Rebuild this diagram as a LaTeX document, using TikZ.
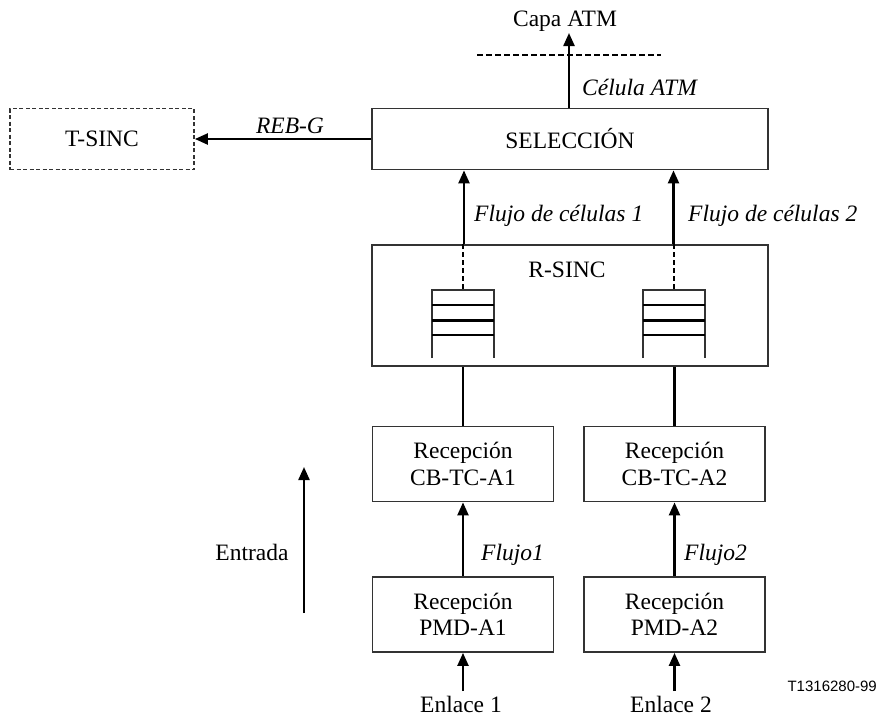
\documentclass[tikz,border=0pt]{standalone}
\usepackage{fontspec}
\setmainfont{Liberation Serif}
\newfontfamily\idfont{Liberation Sans}
\usetikzlibrary{arrows.meta}
\definecolor{boxgray}{gray}{0.2}
\begin{document}
\begin{tikzpicture}[x=1pt,y=-1pt,
  box/.style={draw=boxgray, line width=1.8pt, inner sep=0pt, align=center,
    font=\fontsize{23.5}{26.5}\selectfont},
  lbl/.style={inner sep=0pt, font=\fontsize{23.5}{26.5}\selectfont},
  ilbl/.style={inner sep=0pt, font=\fontsize{23.5}{26.5}\selectfont\itshape},
  arr/.style={line width=2.3pt, -{Triangle[length=13pt,width=11pt]}},
  ln/.style={line width=2.3pt},
  thin/.style={draw=boxgray, line width=1.8pt},
  dsh/.style={line width=2pt, dash pattern=on 5pt off 3pt},
  queue/.pic={
    \draw[thin] (-31,68) -- (-31,0) -- (31,0) -- (31,68);
    \draw[ln] (-31,15) -- (31,15) (-31,30.5) -- (31,30.5) (-31,45) -- (31,45);
  },
]
\useasboundingbox (0,0) rectangle (878,716);

% boxes
\node[box, minimum width=396pt, minimum height=61pt] (sel) at (570,139) {SELECCIÓN};
\node[box, dash pattern=on 4pt off 2.5pt, minimum width=184pt, minimum height=61pt] (tsinc) at (102,139) {T-SINC};
\node[box, minimum width=396pt, minimum height=121pt] (rsinc) at (570,305.5) {};
\node[lbl, anchor=base] (rsinclbl) at (567,277) {R-SINC};
\node[box, minimum width=181pt, minimum height=75pt] (cb1) at (463,464) {Recepción\\CB-TC-A1};
\node[box, minimum width=181pt, minimum height=75pt] (cb2) at (674.5,464) {Recepción\\CB-TC-A2};
\node[box, minimum width=181pt, minimum height=75pt] (pmd1) at (463,614.5) {Recepción\\PMD-A1};
\node[box, minimum width=181pt, minimum height=75pt] (pmd2) at (674.5,614.5) {Recepción\\PMD-A2};

% top
\node[lbl, anchor=base] (capa) at (565,26.5) {Capa ATM};
\coordinate (capatip) at (569,33);
\draw[arr] (sel.north -| capatip) -- (capatip);
\coordinate (dl1) at (477,55);
\coordinate (dl2) at (661,55);
\draw[line width=2pt, dash pattern=on 6pt off 3pt] (dl1) -- (dl2);
\node[ilbl, anchor=base west] (celula) at (582,95) {Célula ATM};

% REB-G
\draw[arr] (sel.west) -- (tsinc.east);
\node[ilbl, anchor=base] (reb) at (290,133) {REB-G};

% flows from R-SINC to SELECCION
\coordinate (x1) at (464,0);
\coordinate (x2) at (673.5,0);
\draw[arr] (rsinc.north -| x1) -- (sel.south -| x1);
\draw[arr] (rsinc.north -| x2) -- (sel.south -| x2);
\node[ilbl, anchor=base west] (fc1) at (474,221.5) {Flujo de células 1};
\node[ilbl, anchor=base west] (fc2) at (688,221.5) {Flujo de células 2};

% queues
\coordinate (q1) at (463,290);
\coordinate (q2) at (674,290);
\draw[dsh] (rsinc.north -| q1) -- (q1);
\draw[dsh] (rsinc.north -| q2) -- (q2);
\pic at (q1) {queue};
\pic at (q2) {queue};

% CB-TC to R-SINC
\draw[ln] (cb1.north) -- (cb1.north |- rsinc.south);
\draw[ln] (cb2.north) -- (cb2.north |- rsinc.south);

% PMD to CB-TC
\draw[arr] (pmd1.north) -- (cb1.south);
\draw[arr] (pmd2.north) -- (cb2.south);
\node[ilbl, anchor=base west] (fl1) at (481,560) {Flujo1};
\node[ilbl, anchor=base west] (fl2) at (684,560) {Flujo2};

% Enlaces
\node[lbl, anchor=base] (en1) at (461,712.5) {Enlace 1};
\node[lbl, anchor=base] (en2) at (671,712.5) {Enlace 2};
\coordinate (e1) at (463,691);
\coordinate (e2) at (674.5,691);
\draw[arr] (e1) -- (pmd1.south);
\draw[arr] (e2) -- (pmd2.south);

% Entrada
\coordinate (ea) at (304,613);
\coordinate (eb) at (304,467);
\draw[arr] (ea) -- (eb);
\node[lbl, anchor=base] (entrada) at (252,560) {Entrada};

% id
\node[anchor=base east, inner sep=0pt, font=\idfont\fontsize{15}{18}\selectfont] (tid) at (877,691) {T1316280-99};
\end{tikzpicture}
\end{document}
